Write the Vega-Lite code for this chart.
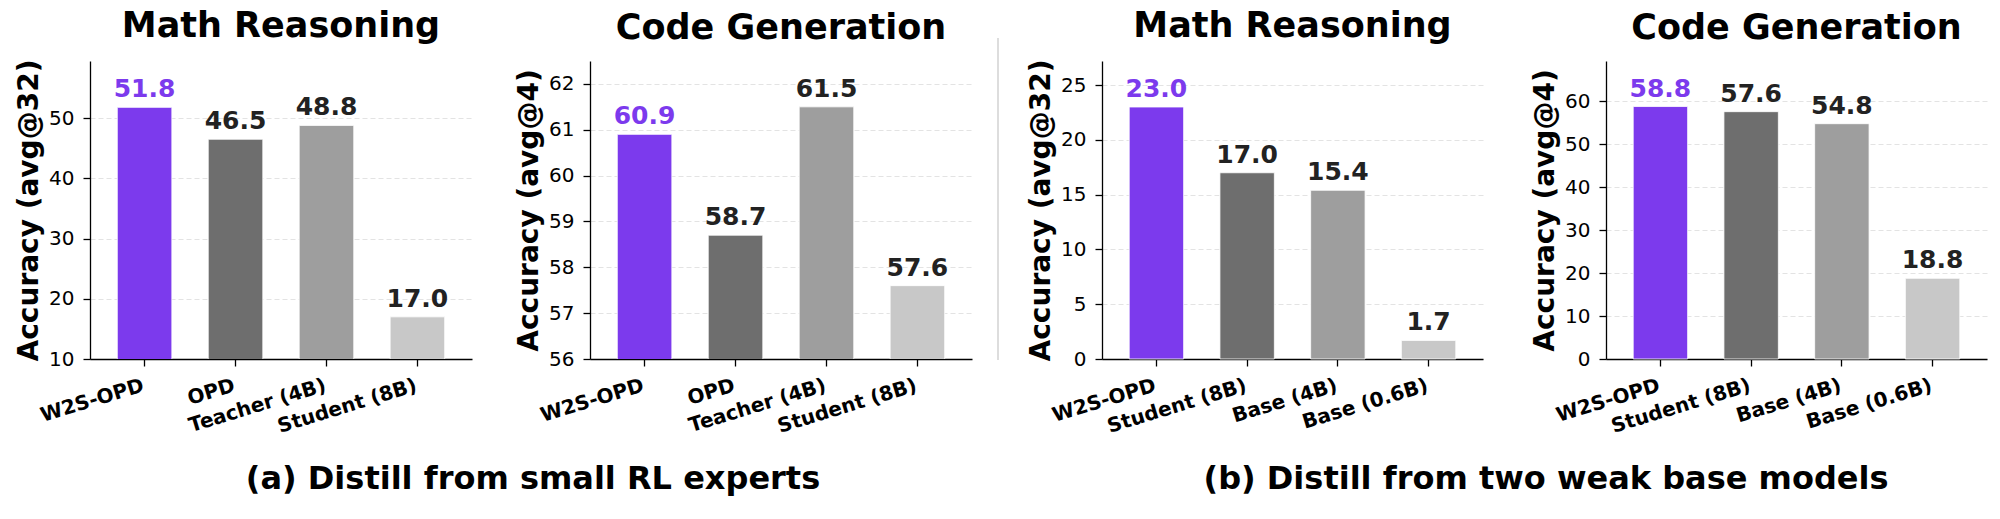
{
  "$schema": "https://vega.github.io/schema/vega-lite/v6.json",
  "padding": {"left": 15, "top": 9, "right": 0, "bottom": 0},
  "background": "white",
  "datasets": {
    "a_math": [
      {"model": "W2S-OPD", "idx": 1, "value": 51.8},
      {"model": "OPD", "idx": 2, "value": 46.5},
      {"model": "Teacher (4B)", "idx": 3, "value": 48.8},
      {"model": "Student (8B)", "idx": 4, "value": 17.0}
    ],
    "a_code": [
      {"model": "W2S-OPD", "idx": 1, "value": 60.9},
      {"model": "OPD", "idx": 2, "value": 58.7},
      {"model": "Teacher (4B)", "idx": 3, "value": 61.5},
      {"model": "Student (8B)", "idx": 4, "value": 57.6}
    ],
    "b_math": [
      {"model": "W2S-OPD", "idx": 1, "value": 23.0},
      {"model": "Student (8B)", "idx": 2, "value": 17.0},
      {"model": "Base (4B)", "idx": 3, "value": 15.4},
      {"model": "Base (0.6B)", "idx": 4, "value": 1.7}
    ],
    "b_code": [
      {"model": "W2S-OPD", "idx": 1, "value": 58.8},
      {"model": "Student (8B)", "idx": 2, "value": 57.6},
      {"model": "Base (4B)", "idx": 3, "value": 54.8},
      {"model": "Base (0.6B)", "idx": 4, "value": 18.8}
    ],
    "sep": [{"part": "divider"}],
    "cap_a": [{"caption": "(a) Distill from small RL experts"}],
    "cap_b": [{"caption": "(b) Distill from two weak base models"}]
  },
  "vconcat": [
    {
      "hconcat": [
        {
          "hconcat": [
            {
              "hconcat": [
                {
                  "width": 382, "height": 298,
                  "data": {"name": "a_math"},
                  "title": {"text": "Math Reasoning"},
                  "encoding": {
                    "x": {"field": "model", "type": "nominal", "sort": null, "scale": {"paddingInner": 0.4, "paddingOuter": 0.3}, "title": null,
                      "axis": {"labelFontSize": 20, "labelFontWeight": "bold", "labelAngle": -17, "labelAlign": "right", "labelBaseline": "top", "labelPadding": 9, "labelOffset": -4, "labelColor": "#000000", "labelFont": "DejaVu Sans"}},
                    "y": {"field": "value", "type": "quantitative", "scale": {"domain": [10, 59.5], "nice": false, "zero": false}, "axis": {"values": [10, 20, 30, 40, 50], "title": "Accuracy (avg@32)"}}
                  },
                  "layer": [
                    {"mark": {"type": "bar", "stroke": "white", "strokeWidth": 0.8, "clip": true}, "encoding": {"color": {"field": "idx", "type": "ordinal", "scale": {"domain": [1, 2, 3, 4], "range": ["#7c3aed", "#6e6e6e", "#9e9e9e", "#c8c8c8"]}, "legend": null}}},
                    {"mark": {"type": "text", "dy": -10, "baseline": "alphabetic", "fontSize": 25, "fontWeight": "bold"}, "encoding": {"text": {"field": "value", "type": "quantitative", "format": ".1f"}, "color": {"condition": {"test": "datum.idx == 1", "value": "#7c3aed"}, "value": "#222222"}}}
                  ]
                },
                {
                  "width": 382, "height": 298,
                  "data": {"name": "a_code"},
                  "title": {"text": "Code Generation"},
                  "encoding": {
                    "x": {"field": "model", "type": "nominal", "sort": null, "scale": {"paddingInner": 0.4, "paddingOuter": 0.3}, "title": null,
                      "axis": {"labelFontSize": 20, "labelFontWeight": "bold", "labelAngle": -17, "labelAlign": "right", "labelBaseline": "top", "labelPadding": 9, "labelOffset": -4, "labelColor": "#000000", "labelFont": "DejaVu Sans"}},
                    "y": {"field": "value", "type": "quantitative", "scale": {"domain": [56, 62.5], "nice": false, "zero": false}, "axis": {"values": [56, 57, 58, 59, 60, 61, 62], "title": "Accuracy (avg@4)"}}
                  },
                  "layer": [
                    {"mark": {"type": "bar", "stroke": "white", "strokeWidth": 0.8, "clip": true}, "encoding": {"color": {"field": "idx", "type": "ordinal", "scale": {"domain": [1, 2, 3, 4], "range": ["#7c3aed", "#6e6e6e", "#9e9e9e", "#c8c8c8"]}, "legend": null}}},
                    {"mark": {"type": "text", "dy": -10, "baseline": "alphabetic", "fontSize": 25, "fontWeight": "bold"}, "encoding": {"text": {"field": "value", "type": "quantitative", "format": ".1f"}, "color": {"condition": {"test": "datum.idx == 1", "value": "#7c3aed"}, "value": "#222222"}}}
                  ]
                }
              ],
              "spacing": 43
            },
            {
              "width": 2, "height": 298,
              "data": {"name": "sep"},
              "mark": {"type": "rule", "color": "#dddddd", "strokeWidth": 2, "clip": false},
              "encoding": {
                "y": {"datum": -0.003, "type": "quantitative", "scale": {"domain": [0, 1], "nice": false, "zero": false}, "axis": null},
                "y2": {"datum": 1.077}
              }
            }
          ],
          "spacing": 25
        },
        {
          "hconcat": [
            {
              "width": 381, "height": 298,
              "data": {"name": "b_math"},
              "title": {"text": "Math Reasoning"},
              "encoding": {
                "x": {"field": "model", "type": "nominal", "sort": null, "scale": {"paddingInner": 0.4, "paddingOuter": 0.3}, "title": null,
                  "axis": {"labelFontSize": 20, "labelFontWeight": "bold", "labelAngle": -17, "labelAlign": "right", "labelBaseline": "top", "labelPadding": 9, "labelOffset": -4, "labelColor": "#000000", "labelFont": "DejaVu Sans"}},
                "y": {"field": "value", "type": "quantitative", "scale": {"domain": [0, 27.2], "nice": false}, "axis": {"values": [0, 5, 10, 15, 20, 25], "title": "Accuracy (avg@32)"}}
              },
              "layer": [
                {"mark": {"type": "bar", "stroke": "white", "strokeWidth": 0.8}, "encoding": {"color": {"field": "idx", "type": "ordinal", "scale": {"domain": [1, 2, 3, 4], "range": ["#7c3aed", "#6e6e6e", "#9e9e9e", "#c8c8c8"]}, "legend": null}}},
                {"mark": {"type": "text", "dy": -10, "baseline": "alphabetic", "fontSize": 25, "fontWeight": "bold"}, "encoding": {"text": {"field": "value", "type": "quantitative", "format": ".1f"}, "color": {"condition": {"test": "datum.idx == 1", "value": "#7c3aed"}, "value": "#222222"}}}
              ]
            },
            {
              "width": 381, "height": 298,
              "data": {"name": "b_code"},
              "title": {"text": "Code Generation"},
              "encoding": {
                "x": {"field": "model", "type": "nominal", "sort": null, "scale": {"paddingInner": 0.4, "paddingOuter": 0.3}, "title": null,
                  "axis": {"labelFontSize": 20, "labelFontWeight": "bold", "labelAngle": -17, "labelAlign": "right", "labelBaseline": "top", "labelPadding": 9, "labelOffset": -4, "labelColor": "#000000", "labelFont": "DejaVu Sans"}},
                "y": {"field": "value", "type": "quantitative", "scale": {"domain": [0, 69.4], "nice": false}, "axis": {"values": [0, 10, 20, 30, 40, 50, 60], "title": "Accuracy (avg@4)"}}
              },
              "layer": [
                {"mark": {"type": "bar", "stroke": "white", "strokeWidth": 0.8}, "encoding": {"color": {"field": "idx", "type": "ordinal", "scale": {"domain": [1, 2, 3, 4], "range": ["#7c3aed", "#6e6e6e", "#9e9e9e", "#c8c8c8"]}, "legend": null}}},
                {"mark": {"type": "text", "dy": -10, "baseline": "alphabetic", "fontSize": 25, "fontWeight": "bold"}, "encoding": {"text": {"field": "value", "type": "quantitative", "format": ".1f"}, "color": {"condition": {"test": "datum.idx == 1", "value": "#7c3aed"}, "value": "#222222"}}}
              ]
            }
          ],
          "spacing": 48
        }
      ],
      "spacing": 28
    },
    {
      "hconcat": [
        {
          "width": 886, "height": 40,
          "data": {"name": "cap_a"},
          "mark": {"type": "text", "fontSize": 32, "fontWeight": "bold", "baseline": "middle", "align": "center", "color": "#000000"},
          "encoding": {"text": {"field": "caption", "type": "nominal"}}
        },
        {
          "width": 1014, "height": 40,
          "data": {"name": "cap_b"},
          "mark": {"type": "text", "fontSize": 32, "fontWeight": "bold", "baseline": "middle", "align": "center", "color": "#000000", "dx": 63},
          "encoding": {"text": {"field": "caption", "type": "nominal"}}
        }
      ],
      "spacing": 0
    }
  ],
  "spacing": 22,
  "config": {
    "font": "DejaVu Sans",
    "view": {"stroke": null},
    "axis": {
      "domainColor": "#000000", "domainWidth": 1.3, "tickColor": "#000000", "tickWidth": 1.3, "tickSize": 7,
      "labelFont": "DejaVu Sans", "labelColor": "#000000", "titleFont": "DejaVu Sans", "titleColor": "#000000"
    },
    "axisY": {
      "labelFontSize": 20, "labelPadding": 9, "titleFontSize": 28, "titleFontWeight": "bold", "titlePadding": 5,
      "grid": true, "gridColor": "#e3e3e3", "gridDash": [5, 3], "gridWidth": 1
    },
    "axisX": {"grid": false},
    "title": {"font": "DejaVu Sans", "fontSize": 35, "fontWeight": "bold", "color": "#000000", "frame": "group", "baseline": "alphabetic", "offset": 15}
  }
}
